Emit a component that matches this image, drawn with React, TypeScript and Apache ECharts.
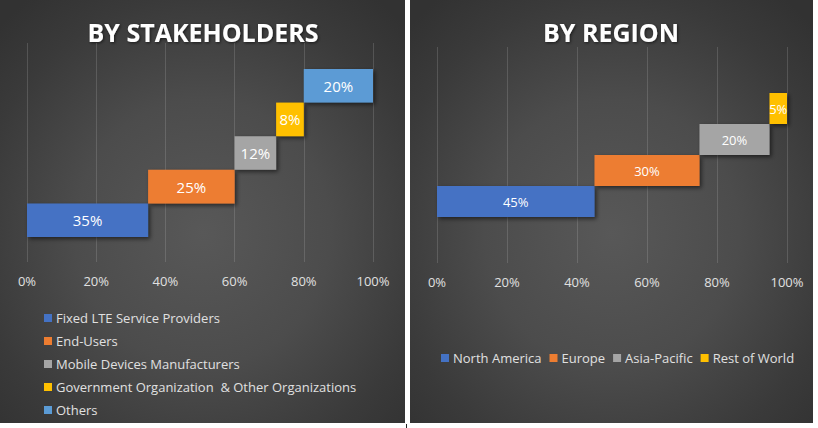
import React, { useEffect, useRef } from "react";
import * as echarts from "echarts";

const stakeholderNames = [
  "Fixed LTE Service Providers",
  "End-Users",
  "Mobile Devices Manufacturers",
  "Government Organization  & Other Organizations",
  "Others",
];
const stakeholderValues = [35, 25, 12, 8, 20];
const stakeholderColors = ["#4472C4", "#ED7D31", "#A5A5A5", "#FFC000", "#5B9BD5"];

const regionNames = ["North America", "Europe", "Asia-Pacific", "Rest of World"];
const regionValues = [45, 30, 20, 5];
const regionColors = ["#4472C4", "#ED7D31", "#A5A5A5", "#FFC000"];

const tickValues = [0, 20, 40, 60, 80, 100];

const FONT = "'Open Sans', 'Noto Sans', sans-serif";

function offsets(vals: number[]) {
  const out: number[] = [];
  let acc = 0;
  for (const v of vals) {
    out.push(acc);
    acc += v;
  }
  return out;
}

function buildSeries(
  names: string[],
  vals: number[],
  colors: string[],
  axisIndex: number,
  stack: string,
  labelSize: number
) {
  const base = offsets(vals);
  const series: any[] = [
    {
      name: stack + "_base",
      type: "bar",
      stack,
      xAxisIndex: axisIndex,
      yAxisIndex: axisIndex,
      barCategoryGap: "0%",
      itemStyle: { color: "rgba(0,0,0,0)" },
      emphasis: { disabled: true },
      data: base,
      silent: true,
    },
  ];
  names.forEach((n, i) => {
    series.push({
      name: n,
      type: "bar",
      stack,
      xAxisIndex: axisIndex,
      yAxisIndex: axisIndex,
      barCategoryGap: "0%",
      itemStyle: {
        color: colors[i],
        shadowColor: "rgba(0,0,0,0.55)",
        shadowBlur: 4,
        shadowOffsetX: 2,
        shadowOffsetY: 2,
      },
      label: {
        show: true,
        position: "inside",
        color: "#ffffff",
        fontSize: labelSize,
        fontFamily: FONT,
        formatter: "{c}%",
      },
      data: vals.map((v, j) => (j === i ? v : "-")),
    });
  });
  return series;
}

export default function App() {
  const ref = useRef<HTMLDivElement>(null);

  useEffect(() => {
    if (!ref.current) return;
    const chart = echarts.init(ref.current, undefined, { renderer: "svg" });

    const axisLabel = {
      color: "#E0E0E0",
      fontSize: 13,
      fontFamily: FONT,
      margin: 12,
      formatter: "{value}%",
    };
    const splitLine = { show: true, lineStyle: { color: "rgba(200,200,200,0.2)", width: 1 } };

    const frameX = (gridIndex: number) => ({
      type: "value",
      gridIndex,
      min: tickValues[0],
      max: tickValues[tickValues.length - 1],
      interval: tickValues[1] - tickValues[0],
      axisLine: { show: false },
      axisTick: { show: false },
      splitLine,
      axisLabel,
    });
    const barX = (gridIndex: number) => ({
      type: "value",
      gridIndex,
      min: 0,
      max: 100,
      show: false,
      splitLine: { show: false },
    });

    const titleStyle = (text: string) => ({
      text,
      fill: "#ffffff",
      font: `bold 25px ${FONT}`,
      textAlign: "center",
      textVerticalAlign: "middle",
      textShadowColor: "rgba(0,0,0,0.6)",
      textShadowBlur: 3,
      textShadowOffsetX: 1,
      textShadowOffsetY: 1,
    });

    const legendText = { color: "#E0E0E0", fontSize: 13, fontFamily: FONT, lineHeight: 14 };

    const option: any = {
      animation: false,
      backgroundColor: "transparent",
      graphic: [
        { type: "text", x: 203, y: 32, style: titleStyle("BY STAKEHOLDERS") },
        { type: "text", x: 611, y: 32, style: titleStyle("BY REGION") },
      ],
      grid: [
        { left: 27, width: 346, top: 69, height: 168 },
        { left: 437, width: 350, top: 93, height: 124 },
        { left: 27, width: 346, top: 43, height: 219 },
        { left: 437, width: 350, top: 47, height: 216 },
      ],
      xAxis: [barX(0), barX(1), frameX(2), frameX(3)],
      yAxis: [
        { type: "category", gridIndex: 0, data: stakeholderNames, show: false },
        { type: "category", gridIndex: 1, data: regionNames, show: false },
        { type: "value", gridIndex: 2, min: 0, max: 1, show: false, splitLine: { show: false } },
        { type: "value", gridIndex: 3, min: 0, max: 1, show: false, splitLine: { show: false } },
      ],
      legend: [
        {
          data: stakeholderNames,
          orient: "vertical",
          left: 44,
          top: 311,
          padding: 0,
          icon: "rect",
          itemWidth: 8,
          itemHeight: 8,
          itemGap: 9,
          selectedMode: false,
          itemStyle: { shadowBlur: 0, shadowOffsetX: 0, shadowOffsetY: 0 },
          textStyle: { ...legendText, padding: [0, 0, 0, -1] },
        },
        {
          data: regionNames,
          orient: "horizontal",
          left: 441,
          top: 351,
          padding: 0,
          icon: "rect",
          itemWidth: 8,
          itemHeight: 8,
          itemGap: 8,
          selectedMode: false,
          itemStyle: { shadowBlur: 0, shadowOffsetX: 0, shadowOffsetY: 0 },
          textStyle: { ...legendText, padding: [0, 0, 0, -1] },
        },
      ],
      series: [
        ...buildSeries(stakeholderNames, stakeholderValues, stakeholderColors, 0, "L", 15),
        ...buildSeries(regionNames, regionValues, regionColors, 1, "R", 13),
      ],
    };

    chart.setOption(option);
    return () => chart.dispose();
  }, []);

  const panelBg =
    "radial-gradient(ellipse 70% 70% at 50% 55%, #585858 0%, #4c4c4c 45%, #3a3a3a 80%, #323232 100%)";

  return (
    <div
      style={{
        position: "fixed",
        left: 0,
        top: 0,
        width: 818,
        height: 428,
        background: "#ffffff",
        overflow: "hidden",
      }}
    >
      <div style={{ position: "absolute", left: 0, top: 0, width: 405, height: 423, background: panelBg }} />
      <div style={{ position: "absolute", left: 410, top: 0, width: 403, height: 423, background: panelBg }} />
      <div style={{ position: "absolute", left: 406, top: 424, width: 1, height: 4, background: "#222" }} />
      <div ref={ref} style={{ position: "absolute", left: 0, top: 0, width: 818, height: 428 }} />
    </div>
  );
}
